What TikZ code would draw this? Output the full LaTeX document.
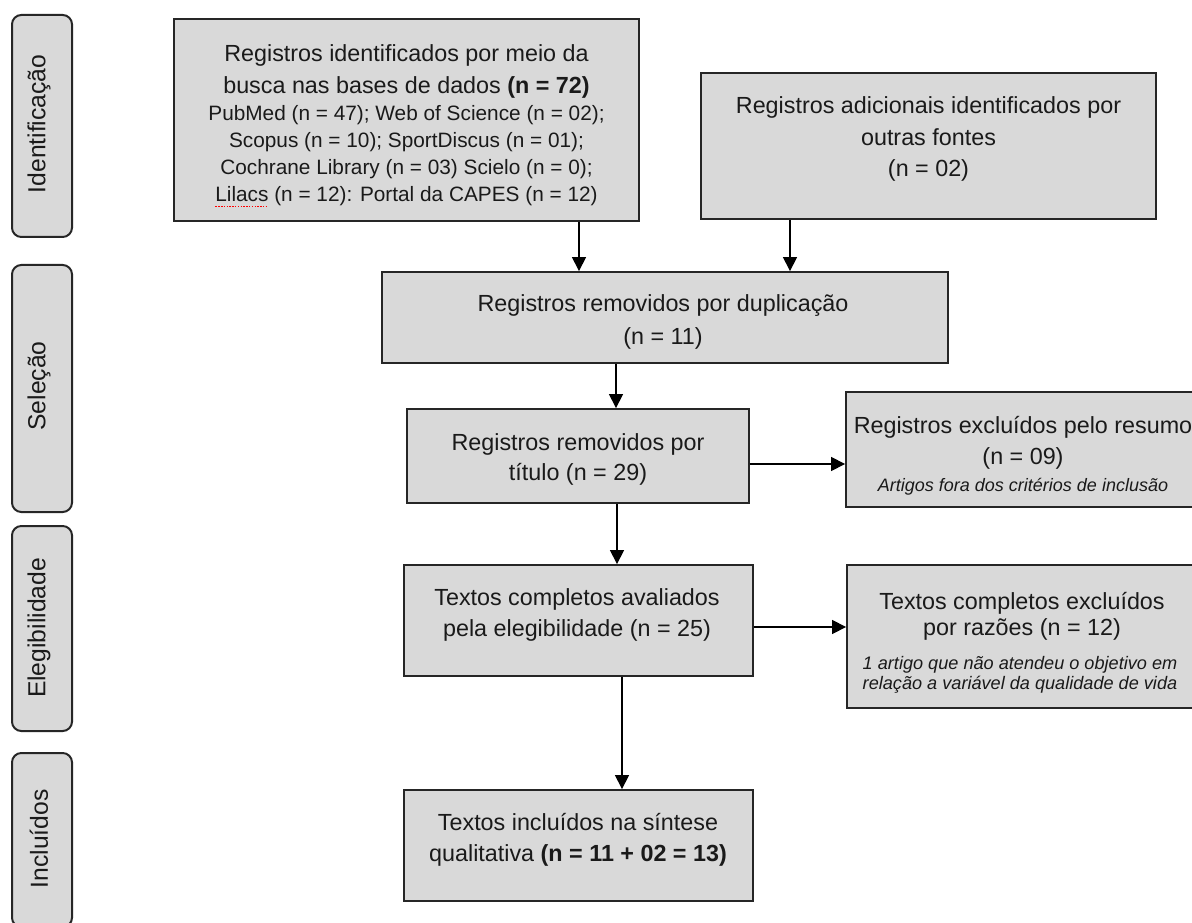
\documentclass[tikz,border=0pt]{standalone}
\usepackage{fontspec}
\setmainfont{Liberation Sans}
\usetikzlibrary{arrows.meta}
\definecolor{boxfill}{HTML}{D9D9D9}
\definecolor{boxline}{HTML}{262626}
\definecolor{txtcol}{HTML}{1A1A1A}
\newcommand\spellwave[1]{\setbox0\hbox{#1}\rlap{\raisebox{-0.5ex}{\textcolor{red}{\hbox to \wd0{\xleaders\hbox{\rule{1.1pt}{0.9pt}\kern0.9pt}\hfill}}}}#1}
\begin{document}
\begin{tikzpicture}[x=0.75pt,y=-0.75pt,
  box/.style={draw=boxline, fill=boxfill, line width=1.4pt, inner sep=0pt, rectangle},
  sidebox/.style={box, rounded corners=7pt, line width=1.5pt},
  sidelbl/.style={inner sep=0pt, rotate=90, text=txtcol, font=\fontsize{18.5}{22}\selectfont},
  mainln/.style={inner sep=0pt, text=txtcol, text height=12.5pt, text depth=0pt, font=\fontsize{17.5}{21}\selectfont},
  smallln/.style={inner sep=0pt, text=txtcol, text height=11.2pt, text depth=0pt, font=\fontsize{15.6}{19}\selectfont},
  itln/.style={inner sep=0pt, text=txtcol, text height=9.8pt, text depth=0pt, font=\fontsize{13.5}{16}\selectfont\itshape},
  itlnb/.style={inner sep=0pt, text=txtcol, text height=9.8pt, text depth=0pt, font=\fontsize{13.6}{16}\selectfont\itshape},
  arr/.style={draw=black, line width=1.1pt, -{Triangle[length=10.5pt,width=10.5pt]}}
]
\clip (0,0) rectangle (1192,923);
\fill[white] (0,0) rectangle (1192,923);

% side labels
\node[sidebox, minimum width=45pt, minimum height=166.5pt] (s1) at (42,126) {};
\node[sidelbl] (l1) at (39,124) {Identificação};
\node[sidebox, minimum width=45pt, minimum height=185.25pt] (s2) at (42,388.5) {};
\node[sidelbl] (l2) at (39,386) {Seleção};
\node[sidebox, minimum width=45pt, minimum height=153.75pt] (s3) at (42,628.5) {};
\node[sidelbl] (l3) at (39,628) {Elegibilidade};
\node[sidebox, minimum width=45pt, minimum height=130.5pt] (s4) at (42,840) {};
\node[sidelbl] (l4) at (39,839) {Incluídos};

% box 1
\node[box, minimum width=348.75pt, minimum height=151.5pt] (b1) at (406.5,120) {};
\node[mainln] (t1a) at (406.5,53) {Registros identificados por meio da};
\node[mainln] (t1b) at (406.5,85) {busca nas bases de dados \textbf{(n = 72)}};
\node[smallln] (t1c) at (406.5,113) {PubMed (n = 47); Web of Science (n = 02);};
\node[smallln] (t1d) at (406.5,140) {Scopus (n = 10); SportDiscus (n = 01);};
\node[smallln] (t1e) at (406.5,167) {Cochrane Library (n = 03) Scielo (n = 0);};
\node[smallln] (t1f) at (406.5,194) {\spellwave{Lilacs} (n = 12): Portal da CAPES (n = 12)};

% box 2
\node[box, minimum width=341.25pt, minimum height=109.5pt] (b2) at (928.5,146) {};
\node[mainln] (t2a) at (928.5,105) {Registros adicionais identificados por};
\node[mainln] (t2b) at (928.5,137) {outras fontes};
\node[mainln] (t2c) at (928.5,168) {(n = 02)};

% box 3
\node[box, minimum width=424.5pt, minimum height=68.25pt] (b3) at (665,317.5) {};
\node[mainln] (t3a) at (663,303) {Registros removidos por duplicação};
\node[mainln] (t3b) at (663,336) {(n = 11)};

% box 4
\node[box, minimum width=256.5pt, minimum height=70.5pt] (b4) at (578,456) {};
\node[mainln] (t4a) at (578,442) {Registros removidos por};
\node[mainln] (t4b) at (578,472) {título (n = 29)};

% box 5
\node[box, minimum width=265.5pt, minimum height=86.25pt] (b5) at (1023,449.5) {};
\node[mainln] (t5a) at (1023,425) {Registros excluídos pelo resumo};
\node[mainln] (t5b) at (1023,456) {(n = 09)};
\node[itln] (t5c) at (1023,485) {Artigos fora dos critérios de inclusão};

% box 6
\node[box, minimum width=261.75pt, minimum height=83.25pt] (b6) at (578.5,620.5) {};
\node[mainln] (t6a) at (577,597) {Textos completos avaliados};
\node[mainln] (t6b) at (577,628) {pela elegibilidade (n = 25)};

% box 7
\node[box, minimum width=263.25pt, minimum height=107.25pt] (b7) at (1022.5,636.5) {};
\node[mainln] (t7a) at (1022,601) {Textos completos excluídos};
\node[mainln] (t7b) at (1022,627) {por razões (n = 12)};
\node[itlnb] (t7c) at (1020,663) {1 artigo que não atendeu o objetivo em};
\node[itlnb] (t7d) at (1020,683) {relação a variável da qualidade de vida};

% box 8
\node[box, minimum width=261.75pt, minimum height=83.25pt] (b8) at (578.5,845.5) {};
\node[mainln] (t8a) at (578,822) {Textos incluídos na síntese};
\node[mainln] (t8b) at (578,853) {qualitativa \textbf{(n = 11 + 02 = 13)}};

% arrow columns
\coordinate (c1) at (579,0);
\coordinate (c2) at (790,0);
\coordinate (c3) at (616,0);
\coordinate (c5) at (617,0);
\coordinate (c7) at (622,0);
\coordinate (r4) at (0,464);
\coordinate (r6) at (0,627);

\draw[arr] (c1 |- b1.south) -- (c1 |- b3.north);
\draw[arr] (c2 |- b2.south) -- (c2 |- b3.north);
\draw[arr] (c3 |- b3.south) -- (c3 |- b4.north);
\draw[arr] (b4.east |- r4) -- (b5.west |- r4);
\draw[arr] (c5 |- b4.south) -- (c5 |- b6.north);
\draw[arr] (b6.east |- r6) -- (b7.west |- r6);
\draw[arr] (c7 |- b6.south) -- (c7 |- b8.north);
\end{tikzpicture}
\end{document}
